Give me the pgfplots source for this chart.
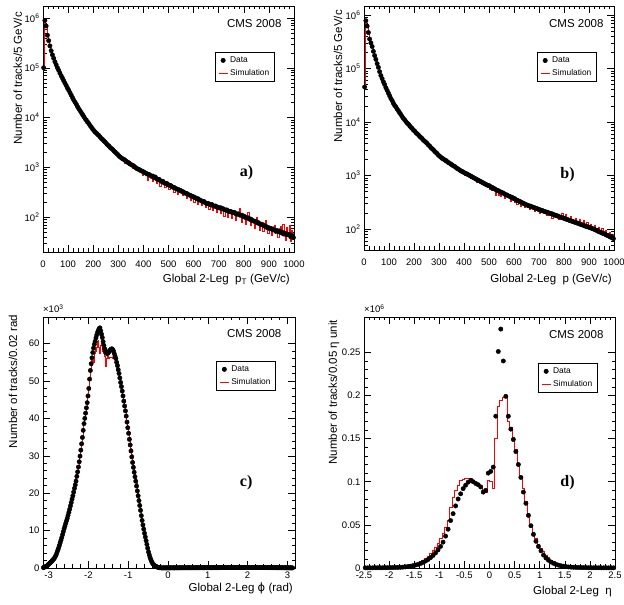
\documentclass[border=0pt]{standalone}
\usepackage{fontspec}
\setmainfont{Liberation Sans}
\newfontfamily\timesfont{Liberation Serif}
\newfontfamily\dejavu{DejaVu Sans}
\usepackage{pgfplots}
\usepackage{pgfplotstable}
\pgfplotsset{compat=1.18}

% Panel a: pT, bin centre, data, simulation
\pgfplotstableread[row sep=\\]{
x d s\\
2.5 100000 100000\\7.5 890000 850000\\12.5 690000 680000\\17.5 450000 460000\\22.5 350000 350000\\
27.5 275000 275000\\32.5 220000 220000\\37.5 182000 182000\\42.5 155000 155000\\47.5 132000 132000\\
52.5 115000 115000\\57.5 100000 100000\\62.5 89000 89000\\67.5 78000 78000\\72.5 69000 69000\\
77.5 62000 62000\\82.5 55000 55000\\87.5 49000 49000\\92.5 44000 44000\\97.5 39000 39000\\
102.5 35500 35500\\107.5 31600 31600\\112.5 28200 28200\\117.5 25100 25100\\122.5 22400 22400\\
127.5 20400 20400\\132.5 18600 18600\\137.5 16600 16600\\142.5 15100 15100\\147.5 13800 13800\\
152.5 12600 12600\\157.5 11500 11500\\162.5 10500 10500\\167.5 9550 9300\\172.5 8900 8900\\
177.5 8130 8130\\182.5 7590 7400\\187.5 6920 6920\\192.5 6460 6460\\197.5 5890 5890\\
202.5 5500 5500\\207.5 5130 5000\\212.5 4900 4900\\217.5 4570 4400\\222.5 4370 4370\\
227.5 4070 3900\\232.5 3800 3800\\237.5 3630 3400\\242.5 3390 3390\\247.5 3240 3240\\
252.5 3020 2800\\257.5 2820 2820\\262.5 2690 2400\\267.5 2510 2510\\272.5 2400 2300\\
277.5 2290 2290\\282.5 2140 1900\\287.5 2040 2040\\292.5 1910 1910\\297.5 1820 1650\\
302.5 1700 1700\\307.5 1620 1620\\312.5 1550 1400\\317.5 1480 1480\\322.5 1450 1450\\
327.5 1380 1200\\332.5 1320 1320\\337.5 1260 1260\\342.5 1230 1100\\347.5 1170 1170\\
352.5 1120 1120\\357.5 1100 950\\362.5 1050 1050\\367.5 1000 1000\\372.5 955 955\\
377.5 930 860\\382.5 910 910\\387.5 870 870\\392.5 850 850\\397.5 830 700\\
402.5 795 795\\407.5 775 775\\412.5 750 750\\417.5 730 560\\422.5 720 720\\
427.5 690 690\\432.5 660 660\\437.5 670 520\\442.5 620 620\\447.5 640 640\\
452.5 590 480\\457.5 570 570\\462.5 575 575\\467.5 540 420\\472.5 520 520\\
477.5 525 525\\482.5 490 490\\487.5 475 400\\492.5 480 480\\497.5 450 450\\
502.5 440 360\\507.5 435 435\\512.5 415 415\\517.5 400 400\\522.5 395 320\\
527.5 380 380\\532.5 368 368\\537.5 365 290\\542.5 348 348\\547.5 345 345\\
552.5 330 330\\557.5 325 270\\562.5 312 312\\567.5 302 302\\572.5 300 240\\
577.5 286 286\\582.5 278 278\\587.5 275 220\\592.5 263 263\\597.5 260 260\\
602.5 249 200\\607.5 245 245\\612.5 235 235\\617.5 235 185\\622.5 222 222\\
627.5 220 220\\632.5 210 170\\637.5 204 204\\642.5 205 205\\647.5 193 155\\
652.5 188 188\\657.5 190 190\\662.5 181 145\\667.5 177 177\\672.5 180 180\\
677.5 170 135\\682.5 166 166\\687.5 168 168\\692.5 160 125\\697.5 157 157\\
702.5 153 153\\707.5 155 120\\712.5 147 147\\717.5 148 148\\722.5 141 105\\
727.5 139 139\\732.5 140 140\\737.5 133 100\\742.5 130 130\\747.5 131 131\\
752.5 125 95\\757.5 123 123\\762.5 125 125\\767.5 118 88\\772.5 115 115\\
777.5 117 117\\782.5 111 150\\787.5 109 109\\792.5 110 80\\797.5 103 103\\
802.5 104 104\\807.5 98 72\\812.5 96 96\\817.5 97 125\\822.5 91 91\\
827.5 92 68\\832.5 86 86\\837.5 85 85\\842.5 82 60\\847.5 82 82\\
852.5 77 100\\857.5 78 78\\862.5 73 55\\867.5 73 73\\872.5 70 70\\
877.5 70 52\\882.5 66 66\\887.5 66 85\\892.5 62 62\\897.5 62 47\\
902.5 59 59\\907.5 60 60\\912.5 57 44\\917.5 58 58\\922.5 55 70\\
927.5 52 52\\932.5 54 54\\937.5 51 40\\942.5 53 53\\947.5 49 65\\
952.5 50 50\\957.5 46 72\\962.5 48 48\\967.5 45 35\\972.5 46 62\\
977.5 44 44\\982.5 45 70\\987.5 40 33\\992.5 43 55\\997.5 39 36\\
}\tabA

% Panel b: p, bin centre, data, simulation
\pgfplotstableread[row sep=\\]{
x d s\\
2.5 45000 45000\\7.5 780000 700000\\12.5 620000 600000\\17.5 470000 470000\\22.5 355000 355000\\
27.5 300000 300000\\32.5 257000 257000\\37.5 209000 209000\\42.5 174000 174000\\47.5 148000 148000\\
52.5 123000 123000\\57.5 105000 105000\\62.5 87000 87000\\67.5 74000 74000\\72.5 64600 64600\\
77.5 56200 56200\\82.5 50100 50100\\87.5 43600 43600\\92.5 38900 38900\\97.5 34700 34700\\
102.5 30900 30900\\107.5 27500 27500\\112.5 25100 25100\\117.5 22400 22400\\122.5 20400 20400\\
127.5 19100 19100\\132.5 17400 17400\\137.5 16200 16200\\142.5 14800 14800\\147.5 13800 13800\\
152.5 12600 12600\\157.5 11700 11700\\162.5 11000 11000\\167.5 10200 10200\\172.5 9550 9550\\
177.5 9120 9120\\182.5 8510 8510\\187.5 7940 7940\\192.5 7590 7590\\197.5 7080 7080\\
202.5 6760 6760\\207.5 6310 6310\\212.5 6030 6030\\217.5 5750 5750\\222.5 5370 5370\\
227.5 5130 5130\\232.5 4900 4900\\237.5 4570 4570\\242.5 4370 4370\\247.5 4170 4170\\
252.5 3980 3980\\257.5 3720 3720\\262.5 3550 3550\\267.5 3310 3310\\272.5 3160 3160\\
277.5 3020 2850\\282.5 2820 2820\\287.5 2690 2690\\292.5 2570 2400\\297.5 2400 2400\\
302.5 2290 2290\\307.5 2190 2050\\312.5 2090 2090\\317.5 2040 2040\\322.5 1950 1800\\
327.5 1910 1910\\332.5 1820 1820\\337.5 1740 1740\\342.5 1700 1580\\347.5 1620 1620\\
352.5 1580 1580\\357.5 1510 1510\\362.5 1480 1380\\367.5 1410 1410\\372.5 1350 1350\\
377.5 1320 1320\\382.5 1260 1260\\387.5 1220 1220\\392.5 1190 1190\\397.5 1150 1150\\
402.5 1120 1030\\407.5 1090 1090\\412.5 1060 1060\\417.5 1030 1030\\422.5 1000 1000\\
427.5 969 880\\432.5 941 941\\437.5 914 914\\442.5 887 887\\447.5 861 861\\
452.5 836 760\\457.5 812 812\\462.5 789 789\\467.5 766 766\\472.5 744 744\\
477.5 722 650\\482.5 701 701\\487.5 681 681\\492.5 661 661\\497.5 650 650\\
502.5 640 560\\507.5 605 605\\512.5 600 520\\517.5 571 571\\522.5 565 565\\
527.5 541 430\\532.5 527 527\\537.5 520 430\\542.5 499 499\\547.5 490 410\\
552.5 473 473\\557.5 470 470\\562.5 449 370\\567.5 437 437\\572.5 430 430\\
577.5 414 414\\582.5 410 410\\587.5 392 330\\592.5 390 390\\597.5 372 372\\
602.5 370 310\\607.5 352 352\\612.5 345 290\\617.5 334 334\\622.5 330 330\\
627.5 317 265\\632.5 310 310\\637.5 300 300\\642.5 295 250\\647.5 285 285\\
652.5 280 280\\657.5 272 272\\662.5 270 230\\667.5 262 262\\672.5 260 260\\
677.5 252 252\\682.5 250 215\\687.5 242 242\\692.5 240 240\\697.5 233 233\\
702.5 230 200\\707.5 224 224\\712.5 222 222\\717.5 216 216\\722.5 213 213\\
727.5 208 208\\732.5 206 180\\737.5 200 200\\742.5 198 198\\747.5 193 193\\
752.5 192 160\\757.5 185 185\\762.5 184 184\\767.5 178 178\\772.5 177 177\\
777.5 172 150\\782.5 168 168\\787.5 166 166\\792.5 162 200\\797.5 160 160\\
802.5 156 156\\807.5 154 190\\812.5 150 150\\817.5 148 148\\822.5 144 144\\
827.5 142 175\\832.5 139 139\\837.5 137 137\\842.5 134 134\\847.5 132 160\\
852.5 129 129\\857.5 127 127\\862.5 124 150\\867.5 122 122\\872.5 119 119\\
877.5 118 145\\882.5 114 114\\887.5 113 113\\892.5 110 135\\897.5 109 109\\
902.5 106 106\\907.5 105 125\\912.5 102 102\\917.5 100 100\\922.5 98 118\\
927.5 95 95\\932.5 94 94\\937.5 90 110\\942.5 88 88\\947.5 87 87\\
952.5 84 102\\957.5 82 82\\962.5 81 81\\967.5 78 95\\972.5 76 76\\
977.5 75 75\\982.5 72 88\\987.5 70 70\\992.5 69 69\\997.5 66 80\\
}\tabB

% Panel c: phi, bin centre, data, simulation (units of 10^3)
\pgfplotstableread[row sep=\\]{
x d s\\
-3.13 0.1 0.1\\-3.11 0.2 0.2\\-3.09 0.3 0.3\\-3.07 0.4 0.4\\-3.05 0.5 0.5\\
-3.03 0.7 0.7\\-3.01 0.9 0.9\\-2.99 1.1 1.1\\-2.97 1.3 1.3\\-2.95 1.5 1.5\\
-2.93 1.7 1.7\\-2.91 1.9 1.9\\-2.89 2.2 2.2\\-2.87 2.4 2.4\\-2.85 2.7 2.7\\
-2.83 3.1 3.1\\-2.81 3.5 3.5\\-2.79 4.1 4.1\\-2.77 4.7 4.7\\-2.75 5.3 5.3\\
-2.73 6.0 6.0\\-2.71 6.7 6.7\\-2.69 7.4 7.4\\-2.67 8.1 8.1\\-2.65 8.9 8.9\\
-2.63 9.7 9.7\\-2.61 10.5 10.5\\-2.59 11.2 11.2\\-2.57 11.9 11.9\\-2.55 12.6 12.6\\
-2.53 13.3 13.5\\-2.51 14.1 14.3\\-2.49 14.9 15.2\\-2.47 15.7 16.1\\-2.45 16.6 17.1\\
-2.43 17.5 18.0\\-2.41 18.4 18.9\\-2.39 19.3 19.9\\-2.37 20.3 20.9\\-2.35 21.3 21.9\\
-2.33 22.2 22.9\\-2.31 23.2 23.9\\-2.29 24.5 25.0\\-2.27 25.7 26.2\\-2.25 27.0 27.5\\
-2.23 28.4 28.8\\-2.21 29.9 30.2\\-2.19 31.5 31.8\\-2.17 33.2 33.4\\-2.15 34.9 35.0\\
-2.13 36.8 36.8\\-2.11 38.6 38.6\\-2.09 40.0 40.0\\-2.07 41.4 41.4\\-2.05 42.8 42.8\\
-2.03 44.2 44.2\\-2.01 46.0 46.0\\-1.99 48.0 48.0\\-1.97 50.5 50.5\\-1.95 52.8 53.0\\
-1.93 54.6 55.5\\-1.91 56.2 55.0\\-1.89 57.6 55.5\\-1.87 58.8 55.0\\-1.85 59.8 57.5\\
-1.83 60.6 58.5\\-1.81 61.5 58.0\\-1.79 62.3 59.0\\-1.77 63.0 60.5\\-1.75 63.5 60.8\\
-1.73 64.0 59.0\\-1.71 64.2 57.5\\-1.69 63.4 59.5\\-1.67 62.5 60.0\\-1.65 61.6 59.0\\
-1.63 60.5 58.0\\-1.61 59.5 57.5\\-1.59 58.6 56.5\\-1.57 58.0 54.0\\-1.55 57.5 54.5\\
-1.53 57.3 56.0\\-1.51 57.4 56.5\\-1.49 57.7 56.2\\-1.47 58.0 56.4\\-1.45 58.3 56.4\\
-1.43 58.5 56.4\\-1.41 58.6 56.3\\-1.39 58.4 56.2\\-1.37 58.0 56.0\\-1.35 57.3 56.0\\
-1.33 56.6 55.8\\-1.31 56.0 55.5\\-1.29 55.0 54.8\\-1.27 54.1 54.0\\-1.25 53.0 53.0\\
-1.23 52.0 52.0\\-1.21 50.8 50.8\\-1.19 49.6 49.6\\-1.17 48.5 48.5\\-1.15 47.3 47.3\\
-1.13 46.0 46.0\\-1.11 44.6 44.6\\-1.09 43.3 43.3\\-1.07 42.0 42.0\\-1.05 40.6 41.0\\
-1.03 39.0 39.5\\-1.01 37.5 38.0\\-0.99 36.0 36.6\\-0.97 34.4 35.0\\-0.95 32.9 33.5\\
-0.93 31.3 32.0\\-0.91 29.7 30.4\\-0.89 28.2 28.9\\-0.87 26.9 27.6\\-0.85 25.6 26.3\\
-0.83 24.4 25.1\\-0.81 23.2 23.9\\-0.79 21.9 22.6\\-0.77 20.6 21.3\\-0.75 19.3 20.0\\
-0.73 18.0 18.7\\-0.71 16.7 17.3\\-0.69 15.4 16.0\\-0.67 14.0 14.6\\-0.65 12.7 13.3\\
-0.63 11.5 12.0\\-0.61 10.4 10.8\\-0.59 9.3 9.6\\-0.57 8.3 8.5\\-0.55 7.3 7.4\\
-0.53 6.3 6.3\\-0.51 5.3 5.3\\-0.49 4.3 4.3\\-0.47 3.5 3.5\\-0.45 2.8 2.8\\
-0.43 2.2 2.2\\-0.41 1.7 1.7\\-0.39 1.3 1.3\\-0.37 1.0 1.0\\-0.35 0.8 0.8\\
-0.33 0.6 0.6\\-0.31 0.45 0.45\\-0.29 0.35 0.35\\-0.27 0.25 0.25\\-0.25 0.18 0.18\\
-0.23 0.12 0.12\\-0.21 0.08 0.08\\-0.19 0.05 0.05\\-0.17 0.04 0.04\\-0.15 0.04 0.04\\
-0.13 0.03 0.03\\-0.11 0.04 0.04\\-0.09 0.03 0.03\\-0.07 0.04 0.04\\-0.05 0.04 0.04\\
-0.03 0.03 0.03\\-0.01 0.04 0.04\\0.01 0.04 0.04\\0.03 0.03 0.03\\0.05 0.04 0.04\\
0.07 0.04 0.04\\0.09 0.05 0.05\\0.11 0.04 0.04\\0.13 0.04 0.04\\0.15 0.05 0.05\\
0.17 0.04 0.04\\0.19 0.05 0.05\\0.21 0.05 0.05\\0.23 0.04 0.04\\0.25 0.05 0.05\\
0.27 0.05 0.05\\0.29 0.05 0.05\\0.31 0.06 0.06\\0.33 0.05 0.05\\0.35 0.05 0.05\\
0.37 0.06 0.06\\0.39 0.05 0.05\\0.41 0.06 0.06\\0.43 0.06 0.06\\0.45 0.05 0.05\\
0.47 0.06 0.06\\0.49 0.06 0.06\\0.51 0.06 0.06\\0.53 0.07 0.07\\0.55 0.06 0.06\\
0.57 0.06 0.06\\0.59 0.07 0.07\\0.61 0.06 0.06\\0.63 0.07 0.07\\0.65 0.07 0.07\\
0.67 0.06 0.06\\0.69 0.07 0.07\\0.71 0.07 0.07\\0.73 0.07 0.07\\0.75 0.08 0.08\\
0.77 0.07 0.07\\0.79 0.07 0.07\\0.81 0.08 0.08\\0.83 0.07 0.07\\0.85 0.08 0.08\\
0.87 0.08 0.08\\0.89 0.07 0.07\\0.91 0.08 0.08\\0.93 0.08 0.08\\0.95 0.08 0.08\\
0.97 0.09 0.09\\0.99 0.08 0.08\\1.01 0.08 0.08\\1.03 0.09 0.09\\1.05 0.08 0.08\\
1.07 0.09 0.09\\1.09 0.09 0.09\\1.11 0.08 0.08\\1.13 0.09 0.09\\1.15 0.09 0.09\\
1.17 0.09 0.09\\1.19 0.10 0.10\\1.21 0.09 0.09\\1.23 0.09 0.09\\1.25 0.10 0.10\\
1.27 0.09 0.09\\1.29 0.10 0.10\\1.31 0.12 0.12\\1.33 0.14 0.14\\1.35 0.13 0.13\\
1.37 0.14 0.14\\1.39 0.15 0.15\\1.41 0.14 0.14\\1.43 0.15 0.15\\1.45 0.15 0.15\\
1.47 0.14 0.14\\1.49 0.15 0.15\\1.51 0.15 0.15\\1.53 0.16 0.16\\1.55 0.15 0.15\\
1.57 0.15 0.15\\1.59 0.16 0.16\\1.61 0.15 0.15\\1.63 0.16 0.16\\1.65 0.16 0.16\\
1.67 0.15 0.15\\1.69 0.16 0.16\\1.71 0.16 0.16\\1.73 0.15 0.15\\1.75 0.16 0.16\\
1.77 0.16 0.16\\1.79 0.15 0.15\\1.81 0.16 0.16\\1.83 0.15 0.15\\1.85 0.16 0.16\\
1.87 0.16 0.16\\1.89 0.15 0.15\\1.91 0.15 0.15\\1.93 0.16 0.16\\1.95 0.15 0.15\\
1.97 0.15 0.15\\1.99 0.16 0.16\\2.01 0.15 0.15\\2.03 0.15 0.15\\2.05 0.14 0.14\\
2.07 0.15 0.15\\2.09 0.15 0.15\\2.11 0.14 0.14\\2.13 0.15 0.15\\2.15 0.14 0.14\\
2.17 0.14 0.14\\2.19 0.15 0.15\\2.21 0.14 0.14\\2.23 0.14 0.14\\2.25 0.13 0.13\\
2.27 0.14 0.14\\2.29 0.13 0.13\\2.31 0.13 0.13\\2.33 0.14 0.14\\2.35 0.13 0.13\\
2.37 0.12 0.12\\2.39 0.13 0.13\\2.41 0.12 0.12\\2.43 0.12 0.12\\2.45 0.11 0.11\\
2.47 0.12 0.12\\2.49 0.11 0.11\\2.51 0.11 0.11\\2.53 0.10 0.10\\2.55 0.11 0.11\\
2.57 0.10 0.10\\2.59 0.10 0.10\\2.61 0.09 0.09\\2.63 0.10 0.10\\2.65 0.09 0.09\\
2.67 0.09 0.09\\2.69 0.08 0.08\\2.71 0.09 0.09\\2.73 0.08 0.08\\2.75 0.08 0.08\\
2.77 0.07 0.07\\2.79 0.08 0.08\\2.81 0.07 0.07\\2.83 0.07 0.07\\2.85 0.06 0.06\\
2.87 0.07 0.07\\2.89 0.06 0.06\\2.91 0.06 0.06\\2.93 0.05 0.05\\2.95 0.06 0.06\\
2.97 0.05 0.05\\2.99 0.05 0.05\\3.01 0.05 0.05\\3.03 0.04 0.04\\3.05 0.05 0.05\\
3.07 0.04 0.04\\3.09 0.04 0.04\\3.11 0.04 0.04\\3.13 0.03 0.03\\
}\tabC

% Panel d: eta, bin centre, data, simulation (units of 10^6)
\pgfplotstableread[row sep=\\]{
x d s\\
-2.475 0.0002 0.0003\\-2.425 0.0002 0.0003\\-2.375 0.0002 0.0003\\-2.325 0.0002 0.0003\\-2.275 0.0003 0.0004\\
-2.225 0.0003 0.0004\\-2.175 0.0003 0.0004\\-2.125 0.0003 0.0005\\-2.075 0.0004 0.0005\\-2.025 0.0004 0.0006\\
-1.975 0.0005 0.0007\\-1.925 0.0005 0.0008\\-1.875 0.0006 0.0009\\-1.825 0.0007 0.0010\\-1.775 0.0008 0.0011\\
-1.725 0.0010 0.0014\\-1.675 0.0013 0.0018\\-1.625 0.0017 0.0023\\-1.575 0.0021 0.0030\\-1.525 0.0027 0.0038\\
-1.475 0.0034 0.0048\\-1.425 0.0042 0.0060\\-1.375 0.0052 0.0075\\-1.325 0.0065 0.0093\\-1.275 0.0080 0.0114\\
-1.225 0.0098 0.0140\\-1.175 0.0120 0.0170\\-1.125 0.0145 0.0205\\-1.075 0.0175 0.0245\\-1.025 0.0210 0.0290\\
-0.975 0.0250 0.0340\\-0.925 0.0300 0.0400\\-0.875 0.0370 0.0470\\-0.825 0.0450 0.0550\\-0.775 0.0550 0.0700\\
-0.725 0.0630 0.0815\\-0.675 0.0720 0.0900\\-0.625 0.0800 0.0957\\-0.575 0.0860 0.1015\\-0.525 0.0920 0.1034\\
-0.475 0.0960 0.1046\\-0.425 0.0995 0.1046\\-0.375 0.1015 0.1040\\-0.325 0.1000 0.1015\\-0.275 0.0980 0.0980\\
-0.225 0.0965 0.0960\\-0.175 0.0940 0.0940\\-0.125 0.0880 0.0890\\-0.075 0.0900 0.0880\\-0.025 0.1100 0.1020\\
0.025 0.1120 0.1010\\0.075 0.1170 0.0920\\0.125 0.1760 0.1500\\0.175 0.2510 0.1880\\0.225 0.2770 0.1950\\
0.275 0.2400 0.1980\\0.325 0.1990 0.1980\\0.375 0.1760 0.1700\\0.425 0.1610 0.1630\\0.475 0.1490 0.1520\\
0.525 0.1350 0.1380\\0.575 0.1200 0.1220\\0.625 0.1050 0.1060\\0.675 0.0880 0.0920\\0.725 0.0750 0.0770\\
0.775 0.0610 0.0630\\0.825 0.0490 0.0500\\0.875 0.0390 0.0410\\0.925 0.0310 0.0340\\0.975 0.0250 0.0280\\
1.025 0.0200 0.0230\\1.075 0.0150 0.0190\\1.125 0.0116 0.0150\\1.175 0.0090 0.0120\\1.225 0.0070 0.0095\\
1.275 0.0055 0.0075\\1.325 0.0042 0.0060\\1.375 0.0033 0.0047\\1.425 0.0026 0.0037\\1.475 0.0020 0.0030\\
1.525 0.0016 0.0024\\1.575 0.0012 0.0019\\1.625 0.0010 0.0015\\1.675 0.0008 0.0012\\1.725 0.0007 0.0010\\
1.775 0.0006 0.0009\\1.825 0.0005 0.0008\\1.875 0.0005 0.0007\\1.925 0.0004 0.0006\\1.975 0.0004 0.0005\\
2.025 0.0003 0.0005\\2.075 0.0003 0.0004\\2.125 0.0003 0.0004\\2.175 0.0003 0.0004\\2.225 0.0002 0.0003\\
2.275 0.0002 0.0003\\2.325 0.0002 0.0003\\2.375 0.0002 0.0003\\2.425 0.0002 0.0003\\2.475 0.0002 0.0003\\
}\tabD

\pgfplotsset{
  cmsaxis/.style={
    scale only axis, anchor=south west, clip mode=individual,
    axis line style={line width=0.6pt},
    tick align=inside, tick pos=both, ticklabel pos=left,
    major tick length=7pt, minor tick length=3.5pt,
    every tick/.append style={black, line width=0.5pt},
    tick label style={font=\fontsize{9.5}{11}\selectfont},
    /pgf/number format/assume math mode=true,
    /pgf/number format/1000 sep={},
    ylabel style={font=\fontsize{11.5}{13}\selectfont, inner sep=0pt, anchor=base east},
    legend cell align=left, reverse legend,
    legend style={draw=black, line width=0.5pt, fill=white,
      font=\fontsize{8.4}{10}\selectfont, anchor=north west,
      inner xsep=3pt, inner ysep=2.5pt, row sep=1.5pt},
  },
  dataplot/.style={only marks, mark=*, mark size=2.2pt, black,
    legend image code/.code={\fill[black] (0.16cm,0cm) circle (2.2pt);}},
  simplot/.style={color=red, line width=0.5pt, const plot mark mid, mark=none,
    legend image code/.code={\draw[color=red, line width=0.8pt] (0cm,0cm) -- (0.32cm,0cm);}},
}
\tikzset{
  cmslabel/.style={anchor=base east, font=\fontsize{11.5}{13}\selectfont},
  xlab/.style={anchor=base east, inner sep=0pt, font=\fontsize{11.5}{13}\selectfont},
  panellabel/.style={font=\timesfont\bfseries\fontsize{16}{18}\selectfont},
}

\begin{document}
\begin{tikzpicture}
\path[use as bounding box] (0pt,0pt) rectangle (624pt,605pt);

% ---------------- a) ----------------
\begin{axis}[cmsaxis, at={(43pt,353pt)}, width=251pt, height=246pt,
  xmin=0, xmax=1000, ymode=log, ymin=20, ymax=1.74e6,
  xtick={0,100,...,1000}, minor x tick num=4,
  ytick={100,1000,10000,100000,1000000},
  yticklabels={{10\textsuperscript{2}},{10\textsuperscript{3}},{10\textsuperscript{4}},{10\textsuperscript{5}},{10\textsuperscript{6}}},
  minor ytick={20,30,40,50,60,70,80,90,200,300,400,500,600,700,800,900,2000,3000,4000,5000,6000,7000,8000,9000,20000,30000,40000,50000,60000,70000,80000,90000,200000,300000,400000,500000,600000,700000,800000,900000},
  xticklabel style={yshift=-5pt},
  ylabel={Number of tracks/5 GeV/c},
  ylabel style={at={(axis description cs:-0.0837,0.976)}},
  legend style={at={(0.685,0.813)}},
]
\addplot[simplot] table[x=x, y=s] {\tabA};
\addlegendentry{Simulation}
\addplot[dataplot] table[x=x, y=d] {\tabA};
\addlegendentry{Data}
\node[cmslabel] at (axis description cs:0.964,0.911) {CMS 2008};
\node[panellabel] at (axis description cs:0.811,0.321) {a)};
\end{axis}

% ---------------- b) ----------------
\begin{axis}[cmsaxis, at={(364pt,355pt)}, width=250pt, height=244pt,
  xmin=0, xmax=1000, ymode=log, ymin=40.5, ymax=1.47e6,
  xtick={0,100,...,1000}, minor x tick num=4,
  ytick={100,1000,10000,100000,1000000},
  yticklabels={{10\textsuperscript{2}},{10\textsuperscript{3}},{10\textsuperscript{4}},{10\textsuperscript{5}},{10\textsuperscript{6}}},
  minor ytick={50,60,70,80,90,200,300,400,500,600,700,800,900,2000,3000,4000,5000,6000,7000,8000,9000,20000,30000,40000,50000,60000,70000,80000,90000,200000,300000,400000,500000,600000,700000,800000,900000},
  xticklabel style={yshift=-5pt},
  ylabel={Number of tracks/5 GeV/c},
  ylabel style={at={(axis description cs:-0.088,0.984)}},
  legend style={at={(0.692,0.811)}},
]
\addplot[simplot] table[x=x, y=s] {\tabB};
\addlegendentry{Simulation}
\addplot[dataplot] table[x=x, y=d] {\tabB};
\addlegendentry{Data}
\node[cmslabel] at (axis description cs:0.972,0.910) {CMS 2008};
\node[panellabel] at (axis description cs:0.814,0.307) {b)};
\end{axis}

% ---------------- c) ----------------
\begin{axis}[cmsaxis, at={(43pt,37pt)}, width=252pt, height=251pt,
  xmin=-3.14, xmax=3.19, ymin=0, ymax=67.1,
  xtick={-3,-2,-1,0,1,2,3}, minor x tick num=4,
  ytick={0,10,20,30,40,50,60}, minor y tick num=4,
  scaled y ticks=false,
  ylabel={Number of tracks/0.02 rad},
  ylabel style={at={(axis description cs:-0.103,1.008)}},
  legend style={at={(0.687,0.825)}},
]
\addplot[simplot] table[x=x, y=s] {\tabC};
\addlegendentry{Simulation}
\addplot[dataplot] table[x=x, y=d] {\tabC};
\addlegendentry{Data}
\node[cmslabel] at (axis description cs:0.960,0.920) {CMS 2008};
\node[panellabel] at (axis description cs:0.806,0.339) {c)};
\node[anchor=base west, inner sep=0pt, font=\fontsize{9.5}{11}\selectfont] at ([yshift=4pt]axis description cs:0,1) {×10\textsuperscript{3}};
\end{axis}

% ---------------- d) ----------------
\begin{axis}[cmsaxis, at={(364pt,37pt)}, width=251pt, height=251pt,
  xmin=-2.5, xmax=2.5, ymin=0, ymax=0.291,
  xtick={-2.5,-2,-1.5,-1,-0.5,0,0.5,1,1.5,2,2.5}, minor x tick num=4,
  ytick={0,0.05,0.1,0.15,0.2,0.25}, minor y tick num=4,
  scaled y ticks=false, yticklabel style={/pgf/number format/fixed},
  ylabel={Number of tracks/0.05 η unit},
  ylabel style={at={(axis description cs:-0.1076,0.988)}},
  legend style={at={(0.693,0.817)}},
]
\addplot[simplot] table[x=x, y=s] {\tabD};
\addlegendentry{Simulation}
\addplot[dataplot] table[x=x, y=d] {\tabD};
\addlegendentry{Data}
\node[cmslabel] at (axis description cs:0.968,0.916) {CMS 2008};
\node[panellabel] at (axis description cs:0.811,0.339) {d)};
\node[anchor=base west, inner sep=0pt, font=\fontsize{9.5}{11}\selectfont] at ([yshift=4pt]axis description cs:0,1) {×10\textsuperscript{6}};
\end{axis}

% x-axis titles (ROOT style, right-aligned under each frame)
\node[xlab] at (290pt,322.5pt) {Global 2-Leg\ \ p\textsubscript{T} (GeV/c)};
\node[xlab] at (612pt,322.5pt) {Global 2-Leg\ \ p (GeV/c)};
\node[xlab] at (293pt,13pt) {Global 2-Leg {\dejavu ϕ} (rad)};
\node[xlab] at (612pt,10pt) {Global 2-Leg\ \ η};
\end{tikzpicture}
\end{document}
